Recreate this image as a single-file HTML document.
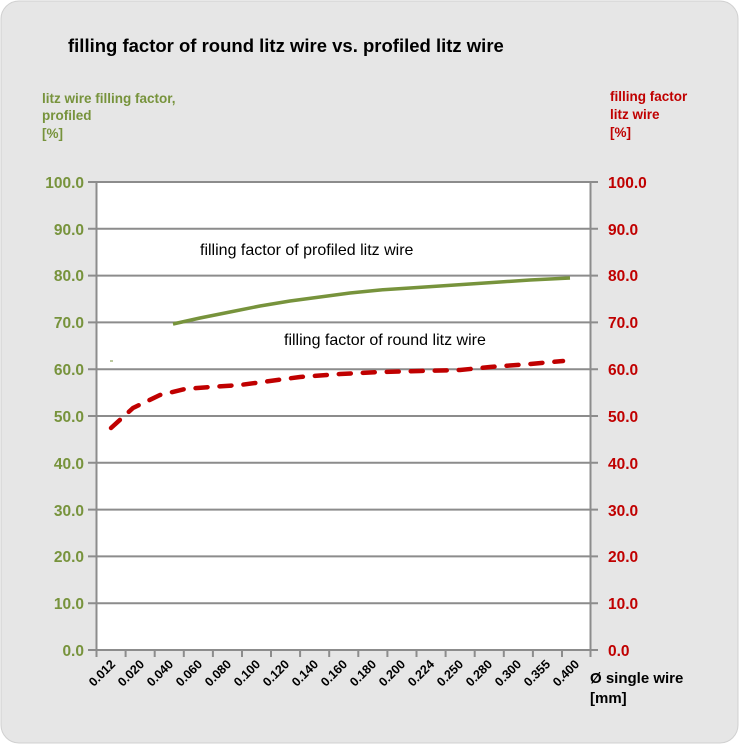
<!DOCTYPE html>
<html><head><meta charset="utf-8"><style>
body{margin:0;background:#fff;}
svg{display:block;font-family:"Liberation Sans",sans-serif;}
</style></head><body>
<svg width="740" height="745" viewBox="0 0 740 745">
<rect x="1" y="1" width="737" height="742" rx="18" fill="#e6e6e6" stroke="#d0d0d0"/>
<text x="68" y="52" font-size="18.5" font-weight="bold" fill="#000">filling factor of round litz wire vs. profiled litz wire</text>
<g font-size="13.5" font-weight="bold" fill="#77933c">
<text x="42" y="103">litz wire filling factor,</text>
<text x="42" y="120">profiled</text>
<text x="42" y="138">[%]</text>
</g>
<g font-size="13.5" font-weight="bold" fill="#c00000">
<text x="610" y="101">filling factor</text>
<text x="610" y="119">litz wire</text>
<text x="610" y="137">[%]</text>
</g>
<rect x="96.5" y="182" width="494" height="468" fill="#fff"/>
<g stroke="#8c8c8c" stroke-width="2">
<line x1="88" y1="182" x2="598" y2="182"/><line x1="88" y1="228.8" x2="598" y2="228.8"/>
<line x1="88" y1="275.6" x2="598" y2="275.6"/><line x1="88" y1="322.4" x2="598" y2="322.4"/>
<line x1="88" y1="369.2" x2="598" y2="369.2"/><line x1="88" y1="416" x2="598" y2="416"/>
<line x1="88" y1="462.8" x2="598" y2="462.8"/><line x1="88" y1="509.6" x2="598" y2="509.6"/>
<line x1="88" y1="556.4" x2="598" y2="556.4"/><line x1="88" y1="603.2" x2="598" y2="603.2"/>
<line x1="88" y1="650" x2="598" y2="650"/>
<line x1="96.5" y1="182" x2="96.5" y2="650"/><line x1="590.5" y1="182" x2="590.5" y2="650"/>
</g>
<g stroke="#8c8c8c" stroke-width="2">
<path d="M96.5 650v7M125.6 650v7M154.7 650v7M183.8 650v7M212.9 650v7M242 650v7M271 650v7M300.1 650v7M329.2 650v7M358.3 650v7M387.4 650v7M416.5 650v7M445.6 650v7M474.7 650v7M503.8 650v7M532.9 650v7M562 650v7M590.5 650v7"/>
</g>
<g font-size="15.5" font-weight="bold" fill="#77933c" text-anchor="end">
<text x="84" y="188">100.0</text><text x="84" y="235">90.0</text><text x="84" y="281">80.0</text>
<text x="84" y="328">70.0</text><text x="84" y="375">60.0</text><text x="84" y="422">50.0</text>
<text x="84" y="469">40.0</text><text x="84" y="516">30.0</text><text x="84" y="562">20.0</text>
<text x="84" y="609">10.0</text><text x="84" y="656">0.0</text>
</g>
<g font-size="15.5" font-weight="bold" fill="#c00000">
<text x="608" y="188">100.0</text><text x="608" y="235">90.0</text><text x="608" y="281">80.0</text>
<text x="608" y="328">70.0</text><text x="608" y="375">60.0</text><text x="608" y="422">50.0</text>
<text x="608" y="469">40.0</text><text x="608" y="516">30.0</text><text x="608" y="562">20.0</text>
<text x="608" y="609">10.0</text><text x="608" y="656">0.0</text>
</g>
<g font-size="12.5" font-weight="bold" fill="#000" text-anchor="end">
<text transform="translate(116,665) rotate(-45)">0.012</text>
<text transform="translate(145,665) rotate(-45)">0.020</text>
<text transform="translate(174,665) rotate(-45)">0.040</text>
<text transform="translate(203,665) rotate(-45)">0.060</text>
<text transform="translate(232,665) rotate(-45)">0.080</text>
<text transform="translate(261,665) rotate(-45)">0.100</text>
<text transform="translate(290,665) rotate(-45)">0.120</text>
<text transform="translate(319,665) rotate(-45)">0.140</text>
<text transform="translate(348,665) rotate(-45)">0.160</text>
<text transform="translate(377,665) rotate(-45)">0.180</text>
<text transform="translate(406,665) rotate(-45)">0.200</text>
<text transform="translate(435,665) rotate(-45)">0.224</text>
<text transform="translate(464,665) rotate(-45)">0.250</text>
<text transform="translate(493,665) rotate(-45)">0.280</text>
<text transform="translate(522,665) rotate(-45)">0.300</text>
<text transform="translate(551,665) rotate(-45)">0.355</text>
<text transform="translate(580,665) rotate(-45)">0.400</text>
</g>
<g font-size="15" font-weight="bold" fill="#000">
<text x="590" y="683">Ø single wire</text>
<text x="590" y="703">[mm]</text>
</g>
<g font-size="16" fill="#000">
<text x="200" y="255">filling factor of profiled litz wire</text>
<text x="284" y="345">filling factor of round litz wire</text>
</g>
<polyline fill="none" stroke="#77933c" stroke-width="3.5" points="173,324 200,318 230,312 260,306 290,301 320,297 350,293 380,290 410,288 440,286 470,284 500,282 530,280 570,278"/>
<line x1="110" y1="361" x2="113" y2="361" stroke="#77933c" stroke-width="1"/>
<polyline fill="none" stroke="#c00000" stroke-width="4.5" stroke-linecap="round" stroke-dasharray="12 12" points="111,428 133,408 160,395 185,389 210,387 240,385 270,381 300,377 340,374 380,372 420,371 460,370 490,367 530,364 563,361"/>
</svg>
</body></html>
